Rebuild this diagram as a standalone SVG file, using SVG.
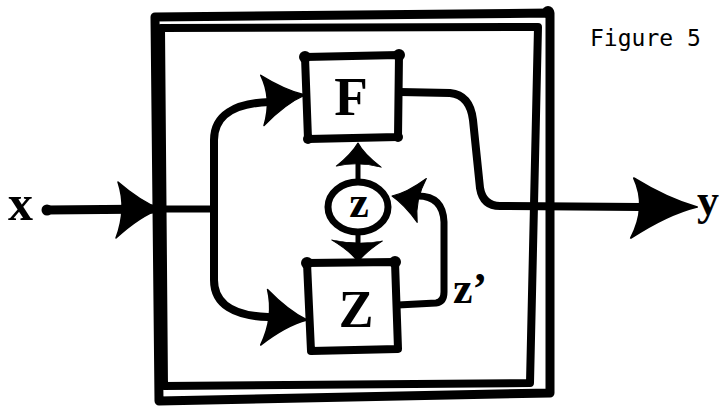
<svg xmlns="http://www.w3.org/2000/svg" xmlns:xlink="http://www.w3.org/1999/xlink" width="720" height="411" viewBox="0 0 720 411">
<style>
.ln{fill:none;stroke:#000;stroke-linecap:round;stroke-linejoin:round}
.bx{fill:#fff;stroke:#000;stroke-width:8;stroke-linejoin:round}
.ah{fill:#000;stroke:#000;stroke-width:1.5;stroke-linejoin:round}
.lbl{font-family:"Liberation Serif","Times New Roman",serif;font-weight:bold;fill:#000}
.cap{font-family:"DejaVu Sans Mono","Liberation Mono",monospace;fill:#000}
</style>
<defs>
<path id="ah" class="ah" d="M0 0 Q-20 -8 -42 -27 Q-33 0 -44 29 Q-20 7 0 0 Z"/>
</defs>
<rect width="720" height="411" fill="#fff"/>
<g id="frame">
<path class="ln" stroke-width="9" d="M155 17 L550 13 L550 393 L159 401 Z"/>
<path class="ln" stroke-width="8" d="M161 28 L538 27 L530 383 L164 386 Z"/>
<circle cx="548" cy="12" r="6"/>
</g>
<g id="connectors">
<path class="ln" stroke-width="9" d="M47 210 L160 209"/>
<path class="ln" stroke-width="7" d="M160 209 L214 209"/>
<path class="ln" stroke-width="8" d="M214 209 L214 140 C214 115 235 103 270 102"/>
<path class="ln" stroke-width="8" d="M214 209 L214 280 C214 305 235 316 268 317"/>
<path class="ln" stroke-width="5" d="M358 182 L358 160"/>
<path class="ln" stroke-width="5" d="M358 232 L358 246"/>
<path class="ln" stroke-width="7" d="M398 305 L436 303 Q444 302 444 292 L444 222 Q443 196 418 196"/>
<path class="ln" stroke-width="8" d="M400 92 L450 93 Q470 95 473 120 L480 188 Q483 206 500 206 L640 207"/>
<use xlink:href="#ah" href="#ah" transform="translate(160 209)"/>
<use xlink:href="#ah" href="#ah" transform="translate(305 95) rotate(-6) scale(1 0.9)"/>
<use xlink:href="#ah" href="#ah" transform="translate(307 320) rotate(5)"/>
<use xlink:href="#ah" href="#ah" transform="translate(358 143) rotate(-90) scale(0.55 0.8)"/>
<use xlink:href="#ah" href="#ah" transform="translate(358 262) rotate(90) scale(0.5 0.9)"/>
<use xlink:href="#ah" href="#ah" transform="translate(392 196) rotate(-170) scale(0.7 0.8)"/>
<use xlink:href="#ah" href="#ah" transform="translate(697 207) scale(1.5 1.07)"/>
</g>
<g id="input-x">
<circle cx="47" cy="210" r="5.5"/>
<text class="lbl" x="8" y="220" font-size="50">x</text>
</g>
<g id="node-F">
<path class="bx" d="M305 57 L399 55 L398 137 L308 139 Z"/>
<circle cx="305" cy="57" r="6"/><circle cx="399" cy="55" r="6"/><circle cx="308" cy="139" r="5"/><circle cx="398" cy="137" r="5"/>
<text class="lbl" x="351" y="115" font-size="55" text-anchor="middle">F</text>
</g>
<g id="node-z">
<ellipse cx="358" cy="207" rx="30" ry="25" fill="#fff" stroke="#000" stroke-width="7"/>
<text class="lbl" x="359" y="217" font-size="44" text-anchor="middle">z</text>
</g>
<g id="node-Z">
<path class="bx" d="M307 263 L395 262 L398 349 L311 351 Z"/>
<circle cx="307" cy="263" r="6"/><circle cx="395" cy="262" r="6"/>
<text class="lbl" x="356" y="327" font-size="52" text-anchor="middle">Z</text>
</g>
<g id="labels">
<text class="lbl" x="453" y="303" font-size="44">z’</text>
<text class="lbl" x="697" y="215" font-size="44">y</text>
<text class="cap" x="590" y="46" font-size="23">Figure 5</text>
</g>
</svg>
